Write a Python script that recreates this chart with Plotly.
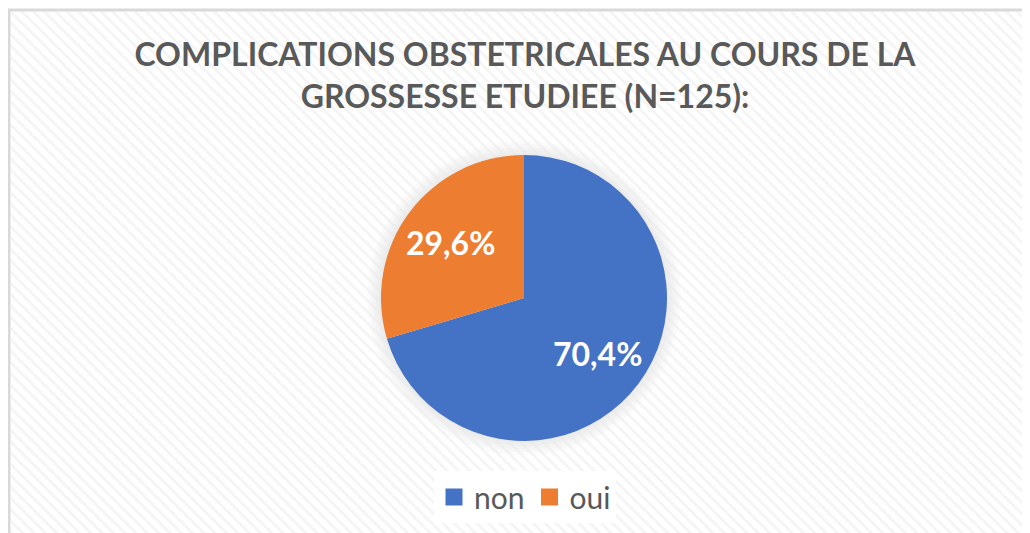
import math
import plotly.graph_objects as go

labels = ['non', 'oui']
counts = [88, 37]   # N = 125
colors = ['#4472C4', '#ED7D31']

OFF = 8                      # page body margin shifts the figure by 8px
W, H = 1030 - OFF, 533 - OFF # keep the page free of scrollbars
cx, cy, r = 524 - OFF, 298 - OFF, 143   # pie centre / radius in figure px

fig = go.Figure()

# hatched chart-area background
fig.add_trace(go.Scatter(
    x=[0, 1, 1, 0, 0], y=[0, 0, 1, 1, 0], mode='lines', fill='toself',
    line=dict(width=0), fillcolor='rgba(0,0,0,0)',
    fillpattern=dict(shape='\\', size=8, solidity=0.35, fgcolor='#e9e9e9', bgcolor='rgba(0,0,0,0)'),
    hoverinfo='skip', showlegend=False))

fig.add_trace(go.Pie(
    labels=labels, values=counts, sort=False, direction='clockwise',
    marker=dict(colors=colors, line=dict(width=0)),
    textinfo='none',
    domain=dict(x=[(cx - r) / W, (cx + r) / W], y=[(H - cy - r) / H, (H - cy + r) / H]),
    showlegend=False, hoverinfo='label+percent'))

# legend entries (bigger squares than the pie legend gives)
for lab, col in zip(labels, colors):
    fig.add_trace(go.Scatter(x=[None], y=[None], mode='markers', name=lab,
                             marker=dict(symbol='square', size=13, color=col,
                                         line=dict(width=4, color=col))))

# percentage labels, placed at the middle angle of each slice
total = sum(counts)
annotations = []
start = 0.0
for v in counts:
    frac = v / total
    mid = 2 * math.pi * (start + frac / 2)     # clockwise from 12 o'clock
    start += frac
    px = cx + 0.645 * r * math.sin(mid)
    py = cy - 0.645 * r * math.cos(mid)
    annotations.append(dict(x=px / W, y=1 - py / H, xref='paper', yref='paper',
                            text=f'{frac * 100:.1f}%'.replace('.', ','), showarrow=False,
                            font=dict(family='Lato', size=32, color='white', weight='bold')))

# soft shadow round the pie
shapes = []
for d in [14, 11, 8, 5, 2]:
    shapes.append(dict(type='circle', xref='paper', yref='paper', layer='below',
                       x0=(cx - r - d) / W, x1=(cx + r + d) / W,
                       y0=(H - cy - r - d) / H, y1=(H - cy + r + d) / H,
                       fillcolor='#808080', opacity=0.035, line=dict(width=0)))
# chart border
bx, by = 1, 10 - OFF
shapes.append(dict(type='rect', xref='paper', yref='paper', x0=bx / W, x1=1.1, y0=-0.1, y1=1 - by / H,
                   line=dict(color='#d9d9d9', width=3), fillcolor='rgba(0,0,0,0)'))

fig.update_layout(
    width=W, height=H, margin=dict(l=0, r=0, t=0, b=0),
    paper_bgcolor='white', plot_bgcolor='rgba(0,0,0,0)',
    title=dict(text='COMPLICATIONS OBSTETRICALES AU COURS DE LA<br>GROSSESSE ETUDIEE (N=125):',
               x=(525 - OFF) / W, xanchor='center', y=1 - 58 / H, yanchor='top',
               font=dict(family='Lato', size=32, color='#595959', weight='bold')),
    xaxis=dict(domain=[(bx + 1.5) / W, 1], range=[0, 1], visible=False, fixedrange=True),
    yaxis=dict(domain=[0, 1 - (by + 1.5) / H], range=[0, 1], visible=False, fixedrange=True),
    legend=dict(orientation='h', x=(525 - OFF) / W, xanchor='center', y=(H - 497 + OFF) / H, yanchor='middle',
                bgcolor='white', font=dict(family='Lato', size=30, color='#595959')),
    shapes=shapes,
    annotations=annotations,
)

fig.write_html('out.html')
